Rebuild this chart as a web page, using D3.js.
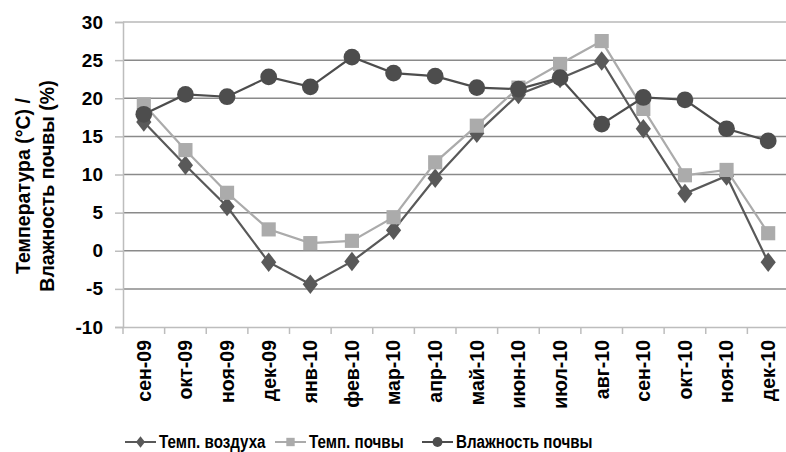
<!DOCTYPE html>
<html><head><meta charset="utf-8">
<script src="https://cdn.jsdelivr.net/npm/d3@7"></script>
<style>body{margin:0;background:#fff}svg{display:block}</style>
</head><body><svg id="c" width="786" height="452"></svg>
<script>
const categories = ["сен-09","окт-09","ноя-09","дек-09","янв-10","фев-10","мар-10","апр-10","май-10","июн-10","июл-10","авг-10","сен-10","окт-10","ноя-10","дек-10"];
const airTemp  = [16.9, 11.2, 5.8, -1.5, -4.4, -1.4, 2.7, 9.5, 15.4, 20.5, 22.6, 24.9, 16.0, 7.5, 9.8, -1.5];
const soilTemp = [19.2, 13.2, 7.6, 2.8, 1.0, 1.3, 4.4, 11.6, 16.4, 21.4, 24.5, 27.5, 18.6, 9.9, 10.6, 2.3];
const soilHum  = [17.9, 20.5, 20.2, 22.8, 21.5, 25.4, 23.3, 22.9, 21.4, 21.2, 22.7, 16.6, 20.1, 19.8, 16.0, 14.4];
const yTicks = [-10, -5, 0, 5, 10, 15, 20, 25, 30];
const seriesNames = ["Темп. воздуха", "Темп. почвы", "Влажность почвы"];

const FONT = "'Liberation Sans', Arial, sans-serif";
const svg = d3.select("#c");
const L = 123, R = 789, T = 22, B = 327;
const x = d3.scaleBand().domain(categories).range([L, R]);
const y = d3.scaleLinear().domain([-10, 30]).range([B, T]);

// gridlines
svg.append("g").selectAll("line").data(yTicks.filter(t => t > -10)).join("line")
  .attr("x1", L).attr("x2", R).attr("y1", d => y(d)).attr("y2", d => y(d))
  .attr("stroke", d => d === 30 ? "#b8b8b8" : "#8a8a8a").attr("stroke-width", 1.5);

// y axis
const ya = svg.append("g").attr("transform", `translate(${L},0)`)
  .call(d3.axisLeft(y).tickValues(yTicks).tickFormat(d => String(d)).tickSize(8).tickPadding(12));
ya.select(".domain").attr("stroke", "#bdbdbd").attr("stroke-width", 1.5);
ya.selectAll(".tick line").attr("stroke", "#bdbdbd").attr("stroke-width", 1.5);
ya.selectAll("text").attr("font-family", FONT).attr("font-size", 19).attr("font-weight", "bold").attr("fill", "#000");

// x axis
const xa = svg.append("g").attr("transform", `translate(0,${B})`)
  .call(d3.axisBottom(x).tickSize(0).tickPadding(0));
xa.select(".domain").attr("stroke", "#bdbdbd").attr("stroke-width", 1.5);
const tickPos = categories.map(c => x(c)).concat([R]);
xa.selectAll(".btick").data(tickPos).join("line").attr("class", "btick")
  .attr("x1", d => d).attr("x2", d => d).attr("y1", 0).attr("y2", 7)
  .attr("stroke", "#bdbdbd").attr("stroke-width", 1.5);
xa.selectAll(".tick text")
  .attr("font-family", FONT).attr("font-size", 19.5).attr("font-weight", "bold").attr("fill", "#000")
  .attr("text-anchor", "end").attr("dy", "0.35em")
  .attr("transform", "translate(0,13) rotate(-90)");

// y title
const yt = svg.append("text").attr("font-family", FONT).attr("font-size", 19.5).attr("font-weight", "bold")
  .attr("text-anchor", "middle").attr("transform", "translate(30,186) rotate(-90)");
yt.append("tspan").attr("x", 0).attr("y", 0).text("Температура (°C) /");
yt.append("tspan").attr("x", 0).attr("y", 24).text("Влажность почвы (%)");

const cx = d => x(d) + x.bandwidth() / 2;
const series = [
  {name: seriesNames[0], vals: airTemp, color: "#595959", shape: d3.symbolDiamond, size: 110},
  {name: seriesNames[1], vals: soilTemp, color: "#ababab", shape: d3.symbolSquare, size: 200},
  {name: seriesNames[2], vals: soilHum, color: "#4d4d4d", shape: d3.symbolCircle, size: 220}
];
const line = d3.line().x((d, i) => cx(categories[i])).y(d => y(d));
series.forEach(s => {
  const g = svg.append("g");
  g.append("path").datum(s.vals).attr("d", line).attr("fill", "none").attr("stroke", s.color).attr("stroke-width", 2.2);
  g.selectAll("path.m").data(s.vals).join("path").attr("class", "m")
    .attr("transform", (d, i) => `translate(${cx(categories[i])},${y(d)})` + (s.shape === d3.symbolDiamond ? " scale(1.35,1)" : ""))
    .attr("d", d3.symbol().type(s.shape).size(s.size)).attr("fill", s.color);
});

// legend
const legX = [125, 275, 422];
series.forEach((s, i) => {
  const g = svg.append("g").attr("transform", `translate(${legX[i]},442)`);
  g.append("line").attr("x1", 0).attr("x2", 31).attr("stroke", s.color).attr("stroke-width", 2);
  g.append("path").attr("transform", "translate(15.5,0)" + (s.shape === d3.symbolDiamond ? " scale(1.35,1)" : ""))
    .attr("d", d3.symbol().type(s.shape).size(s.size * 0.35)).attr("fill", s.color);
  g.append("text").attr("transform", "translate(34,0) scale(0.82,1)").attr("dy", "0.35em")
    .attr("font-family", FONT).attr("font-size", 18.5).attr("font-weight", "bold").attr("fill", "#000").text(s.name);
});
</script></body></html>
